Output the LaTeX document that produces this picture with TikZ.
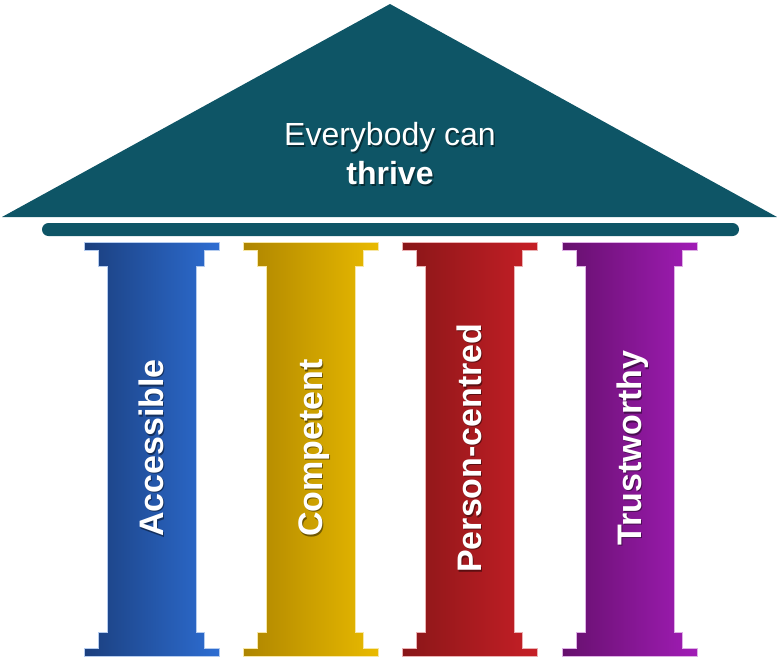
\documentclass[tikz,border=0pt]{standalone}
\usepackage{fontspec}
\setmainfont{Liberation Sans}
\usepackage{tikz}

\definecolor{roofteal}{HTML}{0E5566}
\definecolor{blueL}{HTML}{1B3F7E}
\definecolor{blueR}{HTML}{2D6DD2}
\definecolor{goldL}{HTML}{AE8500}
\definecolor{goldR}{HTML}{E9BA00}
\definecolor{redL}{HTML}{891618}
\definecolor{redR}{HTML}{C61F26}
\definecolor{plumL}{HTML}{66106D}
\definecolor{plumR}{HTML}{A11CB6}

\tikzset{
  roof/.style={fill=roofteal},
  pillarlabel/.style={text=white, font=\fontsize{34}{36}\selectfont\bfseries,
    rotate=90, anchor=base, inner sep=0pt},
  labelshadow/.style={text=black, opacity=0.45, font=\fontsize{34}{36}\selectfont\bfseries,
    rotate=90, anchor=base, inner sep=0pt},
}

\begin{document}
\begin{tikzpicture}[x=1pt,y=-1pt]
   \useasboundingbox (0,0) rectangle (777,657);
   % roof and beam
   \fill[roof] (2,217) -- (390,4) -- (777,217) -- cycle;
   \fill[roof, rounded corners=6.5pt] (42,223) rectangle (739,236);
   \node[text=black, opacity=0.45, align=center, font=\fontsize{32}{39}\selectfont]
      (mottoshadow) at (391.5,155.5) {Everybody can\\\textbf{thrive}};
   \node[text=white, align=center, font=\fontsize{32}{39}\selectfont]
      (motto) at (390,154) {Everybody can\\\textbf{thrive}};
   % pillars
   \foreach \x/\cl/\cr/\name/\txt in {84/blueL/blueR/access/Accessible,
                                      243/goldL/goldR/compet/Competent,
                                      402/redL/redR/person/Person-centred,
                                      562/plumL/plumR/trust/Trustworthy}{
     \begin{scope}[shift={(\x,0)}]
       \draw[left color=\cl, right color=\cr, draw=white!65!\cr, line width=0.8pt]
         (0,242) -- (135,242) -- (135,250) -- (120,250) -- (120,266) -- (112,266)
         -- (112,632) -- (120,632) -- (120,648) -- (135,648) -- (135,656)
         -- (0,656) -- (0,648) -- (14,648) -- (14,632) -- (23,632) -- (23,266)
         -- (14,266) -- (14,250) -- (0,250) -- cycle;
       \node[labelshadow] (\name shadow) at (80.5,449.5) {\txt};
       \node[pillarlabel] (\name) at (79,448) {\txt};
     \end{scope}
   }
\end{tikzpicture}
\end{document}
